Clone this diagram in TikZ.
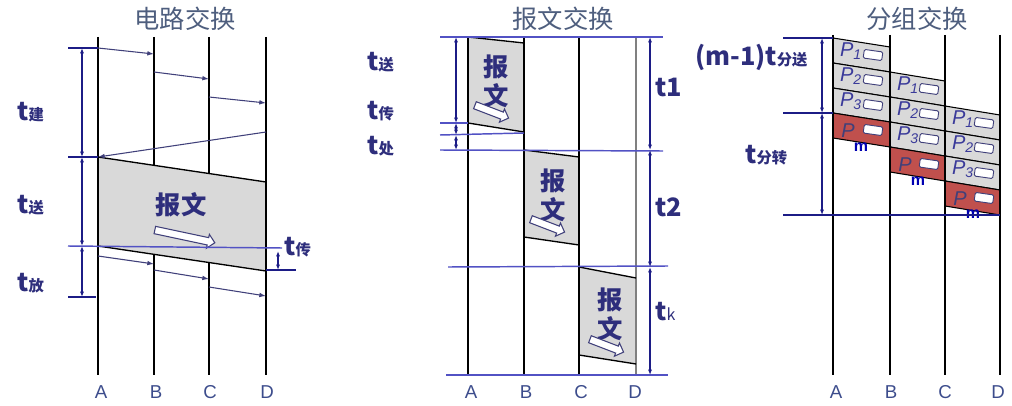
\documentclass[tikz,border=0pt]{standalone}
\usepackage{fontspec}
\setmainfont{Noto Sans CJK SC}
\newfontfamily\sjlatin{Liberation Sans}
\usetikzlibrary{arrows.meta}
\usetikzlibrary{shapes.arrows}
\definecolor{sjheadink}{HTML}{4E5E7E}
\definecolor{sjink}{HTML}{2E2E7C}
\definecolor{sjnavy}{HTML}{1C1C86}
\definecolor{sjline}{HTML}{40407A}
\definecolor{sjprop}{HTML}{5252C4}
\definecolor{sjletter}{HTML}{3C4C8C}
\definecolor{sjgrayfill}{HTML}{D9D9D9}
\definecolor{sjred}{HTML}{C0504D}
\definecolor{sjpink}{HTML}{3A3A9A}
\tikzset{
  sjstation/.style={draw=black, line width=1pt},
  sjedge/.style={draw=black, line width=1pt},
  sjmsg/.style={fill=sjgrayfill},
  sjsetup/.style={-{Latex[length=5pt, width=3.5pt]}, draw=sjline, line width=0.8pt},
  sjmark/.style={{Latex[length=4pt, width=3pt]}-{Latex[length=4pt, width=3pt]},
    draw=sjnavy, line width=0.8pt},
  sjrule/.style={draw=sjnavy, line width=0.8pt},
  sjlevel/.style={draw=sjprop, line width=1.1pt},
  sjheading/.style={font=\fontsize{19}{22}\selectfont, text=sjheadink},
  sjtime/.style={anchor=west, inner sep=0pt, text=sjink,
    font=\bfseries\fontsize{19}{22}\selectfont},
  sjword/.style={font=\bfseries\fontsize{19}{22}\selectfont, text=sjink},
  sjname/.style={font=\sjlatin\fontsize{14}{16}\selectfont, text=sjletter},
  sjhollow/.style={single arrow, draw=sjline, fill=white, line width=0.8pt,
    inner sep=2.4pt, single arrow head extend=2.5pt},
  sjpkt/.style={fill=sjgrayfill, draw=black, line width=0.8pt},
  sjpktm/.style={fill=sjred, draw=black, line width=0.8pt},
  sjplabel/.style={font=\sjlatin\itshape\fontsize{15}{16}\selectfont,
    text=sjpink, inner sep=0pt},
  sjmlabel/.style={font=\sjlatin\bfseries\fontsize{12}{13}\selectfont,
    text=blue!70!black, inner sep=0pt},
  sjtag/.style={draw=sjline, fill=white, rounded corners=1pt, line width=0.7pt,
    minimum width=14pt, minimum height=6.5pt, inner sep=0pt, rotate=-8},
}
\newcommand{\sjsub}[1]{{\fontsize{11.5}{13}\selectfont #1}}

\begin{document}
\begin{tikzpicture}[x=0.75pt, y=-0.75pt]
\useasboundingbox (0,0) rectangle (1012,406);

% Circuit switching.
\node[sjheading] (cstitle) at (185,19) {电路交换};
\fill[sjmsg] (98,157) -- (266,182) -- (266,271) -- (98,246) -- cycle;
\draw[sjstation] (98,37) -- (98,375);
\draw[sjstation] (154,37) -- (154,165);
\draw[sjstation] (154,254) -- (154,375);
\draw[sjstation] (209,37) -- (209,173);
\draw[sjstation] (209,262) -- (209,375);
\draw[sjstation] (266,37) -- (266,375);
\draw[sjedge] (98,157) -- (266,182);
\draw[sjedge] (98,246) -- (266,271);

\draw[sjsetup] (98,48) -- (154,54);
\draw[sjsetup] (154,72) -- (209,79);
\draw[sjsetup] (209,97) -- (266,103);
\draw[sjsetup] (266,132) -- (98,157);
\draw[sjsetup] (98,256) -- (154,264);
\draw[sjsetup] (154,270) -- (209,279);
\draw[sjsetup] (209,287) -- (266,296);

\node[sjword] (csmsg) at (181,205) {报文};
\node[sjhollow, minimum height=46pt, rotate=-12] (csarrow) at (183,236) {};

\draw[sjrule] (68,48) -- (98,48);
\draw[sjrule] (68,157) -- (98,157);
\draw[sjrule] (68,297) -- (96,297);
\draw[sjmark] (82,48) -- (82,157);
\draw[sjmark] (82,157) -- (82,246);
\draw[sjmark] (82,246) -- (82,297);
\draw[sjlevel] (68,246) -- (282,248);
\draw[sjrule] (266,270) -- (296,270);
\draw[sjmark] (278,251) -- (278,270);

\node[sjtime] (csjian) at (17,112) {t\sjsub{建}};
\node[sjtime] (cssong) at (17,205) {t\sjsub{送}};
\node[sjtime] (csfang) at (17,283) {t\sjsub{放}};
\node[sjtime] (cschuan) at (284,247) {t\sjsub{传}};

\node[sjname] (csa) at (101,392) {A};
\node[sjname] (csb) at (156,392) {B};
\node[sjname] (csc) at (210,392) {C};
\node[sjname] (csd) at (267,392) {D};

% Message switching.
\node[sjheading] (mstitle) at (563,19) {报文交换};
\fill[sjmsg] (468,37) -- (524,43) -- (524,132) -- (468,123) -- cycle;
\fill[sjmsg] (524,150) -- (579,157) -- (579,245) -- (524,237) -- cycle;
\fill[sjmsg] (579,267) -- (636,278) -- (636,364) -- (579,355) -- cycle;
\draw[sjstation] (468,37) -- (468,375);
\draw[sjstation] (524,37) -- (524,375);
\draw[sjstation] (579,37) -- (579,375);
\draw[sjstation, draw=gray] (636,37) -- (636,375);
\draw[sjedge] (468,37) -- (524,43);
\draw[sjedge] (468,123) -- (524,132);
\draw[sjedge] (524,150) -- (579,157);
\draw[sjedge] (524,237) -- (579,245);
\draw[sjedge] (579,267) -- (636,278);
\draw[sjedge] (579,355) -- (636,364);

\draw[sjlevel] (440,37) -- (663,37);
\draw[sjlevel] (440,123) -- (468,123);
\draw[sjlevel] (440,135) -- (524,133);
\draw[sjlevel] (440,150) -- (663,151);
\draw[sjlevel] (448,267) -- (668,266);
\draw[sjlevel] (446,375) -- (668,375);

\node[sjword] (msbao1) at (496,67) {报};
\node[sjword] (mswen1) at (496,96) {文};
\node[sjhollow, minimum height=27pt, rotate=-21] (msarrow1) at (490,111) {};
\node[sjword] (msbao2) at (553,181) {报};
\node[sjword] (mswen2) at (553,210) {文};
\node[sjhollow, minimum height=27pt, rotate=-21] (msarrow2) at (546,225) {};
\node[sjword] (msbao3) at (610,300) {报};
\node[sjword] (mswen3) at (610,329) {文};
\node[sjhollow, minimum height=27pt, rotate=-21] (msarrow3) at (605,345) {};

\draw[sjmark] (456,37) -- (456,123);
\draw[sjmark] (456,123) -- (456,135);
\draw[sjmark] (456,135) -- (456,150);
\draw[sjmark] (650,37) -- (650,150);
\draw[sjmark] (650,150) -- (650,267);
\draw[sjmark] (650,267) -- (650,375);

\node[sjtime] (mssong) at (367,62) {t\sjsub{送}};
\node[sjtime] (mschuan) at (367,111) {t\sjsub{传}};
\node[sjtime] (mschu) at (367,146) {t\sjsub{处}};
\node[sjtime] (msone) at (655,87) {t1};
\node[sjtime] (mstwo) at (655,207) {t2};
\node[sjtime] (msk) at (655,312) {t{\fontsize{12}{14}\selectfont\mdseries k}};

\node[sjname] (msa) at (471,392) {A};
\node[sjname] (msb) at (526,392) {B};
\node[sjname] (msc) at (581,392) {C};
\node[sjname] (msd) at (635,392) {D};

% Packet switching.
\node[sjheading] (pstitle) at (917,19) {分组交换};
\filldraw[sjpkt] (833,38) -- (890,47) -- (890,72) -- (833,63) -- cycle;
\filldraw[sjpkt] (833,63) -- (890,72) -- (890,97) -- (833,88) -- cycle;
\filldraw[sjpkt] (833,88) -- (890,97) -- (890,122) -- (833,113) -- cycle;
\filldraw[sjpktm] (833,113) -- (890,122) -- (890,147) -- (833,138) -- cycle;
\filldraw[sjpkt] (890,72) -- (945,81) -- (945,106) -- (890,97) -- cycle;
\filldraw[sjpkt] (890,97) -- (945,106) -- (945,131) -- (890,122) -- cycle;
\filldraw[sjpkt] (890,122) -- (945,131) -- (945,156) -- (890,147) -- cycle;
\filldraw[sjpktm] (890,147) -- (945,156) -- (945,181) -- (890,172) -- cycle;
\filldraw[sjpkt] (945,106) -- (1000,115) -- (1000,140) -- (945,131) -- cycle;
\filldraw[sjpkt] (945,131) -- (1000,140) -- (1000,165) -- (945,156) -- cycle;
\filldraw[sjpkt] (945,156) -- (1000,165) -- (1000,190) -- (945,181) -- cycle;
\filldraw[sjpktm] (945,181) -- (1000,190) -- (1000,215) -- (945,206) -- cycle;

\node[sjplabel] (pab1) at (851,51) {P\textsubscript{1}};
\node[sjtag] (tab1) at (873,55) {};
\node[sjplabel] (pab2) at (851,76) {P\textsubscript{2}};
\node[sjtag] (tab2) at (873,80) {};
\node[sjplabel] (pab3) at (851,101) {P\textsubscript{3}};
\node[sjtag] (tab3) at (873,105) {};
\node[sjplabel, text=sjline] (pabm) at (848,131) {P};
\node[sjtag] (tabm) at (873,130) {};
\node[sjmlabel] (mabm) at (861,147) {m};
\node[sjplabel] (pbc1) at (908,85) {P\textsubscript{1}};
\node[sjtag] (tbc1) at (929,89) {};
\node[sjplabel] (pbc2) at (908,110) {P\textsubscript{2}};
\node[sjtag] (tbc2) at (929,114) {};
\node[sjplabel] (pbc3) at (908,135) {P\textsubscript{3}};
\node[sjtag] (tbc3) at (929,139) {};
\node[sjplabel, text=sjline] (pbcm) at (905,165) {P};
\node[sjtag] (tbcm) at (929,164) {};
\node[sjmlabel] (mbcm) at (918,181) {m};
\node[sjplabel] (pcd1) at (963,119) {P\textsubscript{1}};
\node[sjtag] (tcd1) at (984,123) {};
\node[sjplabel] (pcd2) at (963,144) {P\textsubscript{2}};
\node[sjtag] (tcd2) at (984,148) {};
\node[sjplabel] (pcd3) at (963,169) {P\textsubscript{3}};
\node[sjtag] (tcd3) at (984,173) {};
\node[sjplabel, text=sjline] (pcdm) at (960,199) {P};
\node[sjtag] (tcdm) at (984,198) {};
\node[sjmlabel] (mcdm) at (973,214) {m};

\draw[sjstation] (833,35) -- (833,375);
\draw[sjstation] (890,35) -- (890,375);
\draw[sjstation] (945,35) -- (945,375);
\draw[sjstation] (1000,35) -- (1000,375);

\draw[sjrule] (783,38) -- (833,38);
\draw[sjrule] (783,113) -- (833,113);
\draw[sjrule] (783,215) -- (1000,215);
\draw[sjmark, line width=1.4pt] (822,38) -- (822,113);
\draw[sjmark, line width=1.4pt] (822,113) -- (822,215);

\node[sjtime] (psfensong) at (695,57) {(m-1)t\sjsub{分送}};
\node[sjtime] (psfenzhuan) at (745,155) {t\sjsub{分转}};

\node[sjname] (psa) at (836,392) {A};
\node[sjname] (psb) at (891,392) {B};
\node[sjname] (psc) at (945,392) {C};
\node[sjname] (psd) at (998,392) {D};

\end{tikzpicture}
\end{document}
